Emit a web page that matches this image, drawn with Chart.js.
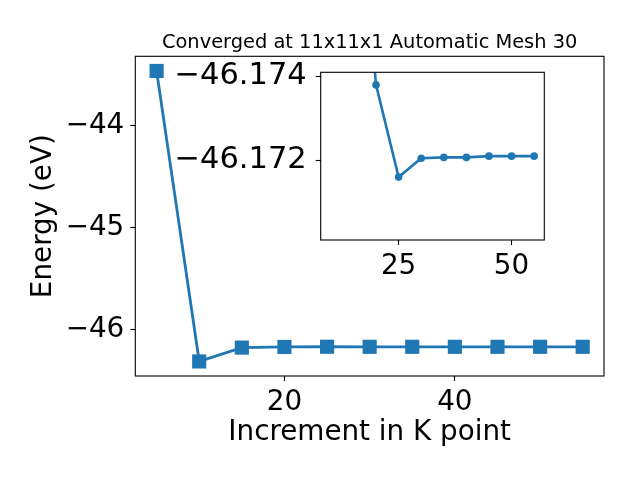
<!DOCTYPE html>
<html>
<head>
<meta charset="utf-8">
<script src="https://cdn.jsdelivr.net/npm/chart.js@4"></script>
<style>
  body { margin: 0; background: #fff; }
  #wrap { position: relative; width: 640px; height: 480px; }
  #wrap canvas { position: absolute; left: 0; top: 0; }
</style>
</head>
<body>
<div id="wrap">
  <canvas id="mainChart" width="640" height="480"></canvas>
  <canvas id="insetChart" width="640" height="480"></canvas>
</div>
<script>
// k-point increments and total energies (eV)
const kPoints = [5, 10, 15, 20, 25, 30, 35, 40, 45, 50, 55];
const energies = [-43.462, -46.316, -46.180, -46.1738, -46.1716, -46.17205, -46.17207, -46.17207, -46.1721, -46.1721, -46.1721];
const mainXTicks = [20, 40];
const mainYTicks = [-46, -45, -44];
const insetXTicks = [25, 50];
const insetYTicks = [-46.174, -46.172];
const chartTitle = 'Converged at 11x11x1 Automatic Mesh 30';

const blue = '#1f77b4';
Chart.defaults.font.family = 'DejaVu Sans';
Chart.defaults.color = '#000';

// axes frame, like matplotlib spines
const boxPlugin = {
    id: 'box',
    beforeDraw(chart) {
        const a = chart.chartArea;
        chart.ctx.save();
        chart.ctx.fillStyle = '#fff';
        chart.ctx.fillRect(a.left, a.top, a.right - a.left, a.bottom - a.top);
        chart.ctx.restore();
    },
    afterDatasetsDraw(chart) {
        const a = chart.chartArea;
        const ctx = chart.ctx;
        ctx.save();
        ctx.strokeStyle = '#000';
        ctx.lineWidth = 1.1;
        ctx.strokeRect(a.left, a.top, a.right - a.left, a.bottom - a.top);
        ctx.restore();
    }
};

// title centred over the plot area (not the whole canvas)
const axesTitle = {
    id: 'axesTitle',
    afterDraw(chart) {
        const a = chart.chartArea;
        const ctx = chart.ctx;
        ctx.save();
        ctx.font = '19.4px "DejaVu Sans"';
        ctx.fillStyle = '#000';
        ctx.textAlign = 'center';
        ctx.textBaseline = 'alphabetic';
        ctx.fillText(chartTitle, (a.left + a.right) / 2, a.top - 8);
        ctx.restore();
    }
};

function minusLabel(v) {
    return String(v).replace('-', '\u2212');
}

function fixedTicks(list) {
    return function(scale) {
        scale.ticks = list.map(v => ({ value: v }));
    };
}

const tickGrid = {
    display: true,
    drawOnChartArea: false,
    drawTicks: true,
    tickLength: 5,
    tickColor: '#000',
    tickWidth: 1.1
};

const points = kPoints.map((k, i) => ({ x: k, y: energies[i] }));

new Chart(document.getElementById('mainChart'), {
    type: 'line',
    data: {
        datasets: [{
            data: points,
            borderColor: blue,
            backgroundColor: blue,
            borderWidth: 2.8,
            pointStyle: 'rect',
            pointRadius: 10,
            pointBorderWidth: 0,
            tension: 0,
            clip: false
        }]
    },
    options: {
        responsive: false,
        animation: false,
        events: [],
        layout: { padding: { left: 0, right: 36, top: 56.3, bottom: 0 } },
        plugins: {
            legend: { display: false },
            tooltip: { enabled: false },
            title: { display: false }
        },
        scales: {
            x: {
                type: 'linear',
                min: 2.5,
                max: 57.5,
                afterBuildTicks: fixedTicks(mainXTicks),
                afterFit: scale => { scale.height = 104; },
                grid: tickGrid,
                border: { display: false },
                ticks: { font: { size: 27.8 }, padding: 5, callback: minusLabel, maxRotation: 0 },
                title: { display: true, text: 'Increment in K point', font: { size: 27.8 }, padding: { top: 0, bottom: 31 } }
            },
            y: {
                type: 'linear',
                min: -46.459,
                max: -43.318,
                afterBuildTicks: fixedTicks(mainYTicks),
                afterFit: scale => { scale.width = 135.3; },
                grid: tickGrid,
                border: { display: false },
                ticks: { font: { size: 27.8 }, padding: 6, callback: minusLabel },
                title: { display: true, text: 'Energy (eV)', font: { size: 27.8 }, padding: { top: 27, bottom: 0 } }
            }
        }
    },
    plugins: [boxPlugin, axesTitle]
});

// inset zooms on the converged part (drops the first point)
new Chart(document.getElementById('insetChart'), {
    type: 'line',
    data: {
        datasets: [{
            data: points.slice(1),
            borderColor: blue,
            backgroundColor: blue,
            borderWidth: 2.6,
            pointStyle: 'circle',
            pointRadius: 3.8,
            pointBorderWidth: 0,
            tension: 0,
            clip: 0
        }]
    },
    options: {
        responsive: false,
        animation: false,
        events: [],
        layout: { padding: { left: 0, right: 95.7, top: 72.3, bottom: 0 } },
        plugins: {
            legend: { display: false },
            tooltip: { enabled: false },
            title: { display: false }
        },
        scales: {
            x: {
                type: 'linear',
                min: 7.75,
                max: 57.25,
                afterBuildTicks: fixedTicks(insetXTicks),
                afterFit: scale => { scale.height = 240; },
                grid: tickGrid,
                border: { display: false },
                ticks: { font: { size: 27.8 }, padding: 5, callback: minusLabel, maxRotation: 0 }
            },
            y: {
                type: 'linear',
                reverse: true,
                min: -46.1741,
                max: -46.1701,
                afterBuildTicks: fixedTicks(insetYTicks),
                afterFit: scale => { scale.width = 320.7; },
                grid: tickGrid,
                border: { display: false },
                ticks: { font: { size: 30.5 }, padding: 9, callback: minusLabel }
            }
        }
    },
    plugins: [boxPlugin]
});
</script>
</body>
</html>
